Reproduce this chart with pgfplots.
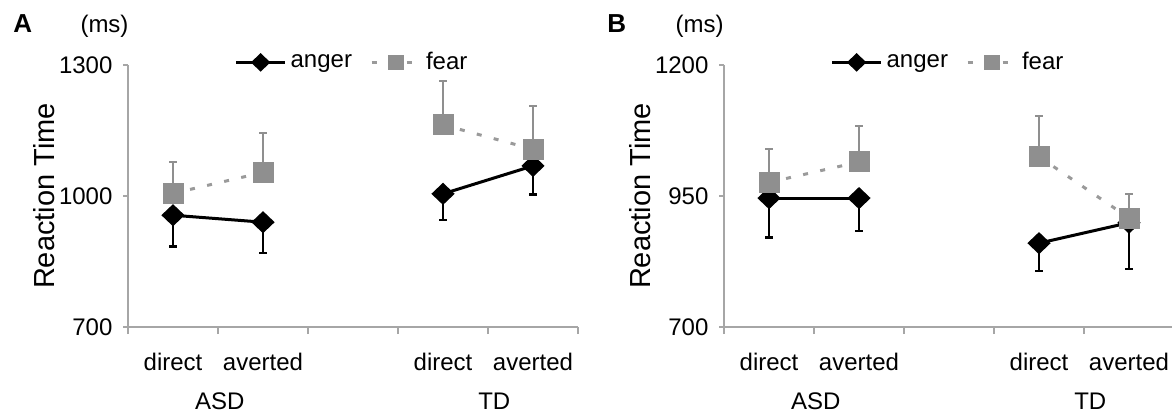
\documentclass[border=0pt]{standalone}
\usepackage{pgfplots}
\pgfplotsset{compat=1.18}
\usepackage{pgfplotstable}
\usepackage{fontspec}
\setmainfont{Liberation Sans}
\usetikzlibrary{plotmarks}

\definecolor{axgray}{HTML}{A6A6A6}
\definecolor{feargray}{HTML}{8F8F8F}
\definecolor{dashgray}{HTML}{9A9A9A}

% x: 0 = ASD direct, 1 = ASD averted, 3 = TD direct, 4 = TD averted
\pgfplotstableread{
x anger angerE fear fearE
0 956  72 1006 71
1 940  71 1054 90
3 1005 60 1163 101
4 1069 66 1107 99
}\dataA
\pgfplotstableread{
x anger angerE fear fearE
0 946 75 976 64
1 946 63 1015 69
3 860 53 1025 77
4 899 88 908 46
}\dataB

\pgfplotsset{
  rt/.style={
    scale only axis, width=225pt, height=131pt,
    xmin=-0.5, xmax=4.5,
    axis lines*=left,
    axis line style={draw=axgray, line width=0.7pt},
    tick align=outside,
    xtick={-0.5,0.5,...,4.5}, xticklabels={},
    xtick style={draw=axgray, line width=0.7pt, /pgfplots/major tick length=3.5pt},
    ytick style={draw=axgray, line width=0.7pt, /pgfplots/major tick length=2.5pt},
    yticklabel style={font=\fontsize{12}{14}\selectfont,
      /pgf/number format/assume math mode=true, /pgf/number format/1000 sep={}},
    ylabel={Reaction Time},
    ylabel style={at={(axis description cs:-0.187,0.5)}, anchor=center, font=\fontsize{14.5}{17}\selectfont},
    clip=false,
    legend columns=2,
    legend style={draw=none, fill=none, at={(0.5,1.01)}, anchor=center,
      font=\fontsize{12}{14}\selectfont,
      /tikz/every even column/.append style={column sep=7pt}},
  },
  angerline/.style={black, line width=1.5pt, mark=diamond*, mark size=4.5pt,
    mark options={solid, xscale=1.4, fill=black},
    error bars/y dir=minus, error bars/y explicit,
    error bars/error bar style={black, line width=1.2pt},
    error bars/error mark options={rotate=90, mark size=1.8pt, black, line width=1.2pt}},
  fearline/.style={dashgray, line width=1.5pt, dash pattern=on 2.5pt off 6.25pt,
    mark=square*, mark size=5pt,
    mark options={solid, draw=feargray, fill=feargray, line width=0pt},
    error bars/y dir=plus, error bars/y explicit,
    error bars/error bar style={solid, feargray, line width=1pt},
    error bars/error mark options={rotate=90, mark size=1.8pt, feargray, line width=1pt}},
  legimg/.style={legend image code/.code={
    \draw[##1] (0pt,0pt) -- (24.5pt,0pt);
    \draw[##1, /tikz/mark size=3.6pt, solid] plot coordinates {(12.25pt,0pt)};}},
}

\newcommand{\lab}{\fontsize{12}{14.5}\selectfont}

\begin{document}
\begin{tikzpicture}
\path[use as bounding box] (0,0) rectangle (586pt,206pt);

% panel A
\node[anchor=base west, font=\fontsize{13}{15}\selectfont\bfseries, inner sep=0pt] at (6.5pt,189.5pt) {A};
\node[anchor=base, font=\fontsize{12}{14}\selectfont, inner sep=0pt] at (52.25pt,189.5pt) {(ms)};
\begin{axis}[rt, at={(64pt,42.5pt)}, anchor=south west,
  ymin=700, ymax=1300, ytick={700,1000,1300}]
  \addplot[angerline, restrict x to domain=0:1, legimg] table[x=x, y=anger, y error=angerE] {\dataA};
  \addlegendentry{anger}
  \addplot[angerline, restrict x to domain=3:4, forget plot] table[x=x, y=anger, y error=angerE] {\dataA};
  \addplot[fearline, restrict x to domain=0:1, legimg] table[x=x, y=fear, y error=fearE] {\dataA};
  \addlegendentry{fear}
  \addplot[fearline, restrict x to domain=3:4, forget plot] table[x=x, y=fear, y error=fearE] {\dataA};
  \node[font=\lab, anchor=base] at (axis cs:0,700) [yshift=-21.5pt] {direct};
  \node[font=\lab, anchor=base] at (axis cs:1,700) [yshift=-21.5pt] {averted};
  \node[font=\lab, anchor=base] at (axis cs:3,700) [yshift=-21.5pt] {direct};
  \node[font=\lab, anchor=base] at (axis cs:4,700) [yshift=-21.5pt] {averted};
  \node[font=\lab, anchor=base] at (axis cs:0.52,700) [yshift=-41pt] {ASD};
  \node[font=\lab, anchor=base] at (axis cs:3.57,700) [yshift=-41pt] {TD};
\end{axis}

% panel B
\node[anchor=base west, font=\fontsize{13}{15}\selectfont\bfseries, inner sep=0pt] at (303.5pt,189.5pt) {B};
\node[anchor=base, font=\fontsize{12}{14}\selectfont, inner sep=0pt] at (349.75pt,189.5pt) {(ms)};
\begin{axis}[rt, at={(362pt,42.5pt)}, anchor=south west,
  ymin=700, ymax=1200, ytick={700,950,1200}]
  \addplot[angerline, restrict x to domain=0:1, legimg] table[x=x, y=anger, y error=angerE] {\dataB};
  \addlegendentry{anger}
  \addplot[angerline, restrict x to domain=3:4, forget plot] table[x=x, y=anger, y error=angerE] {\dataB};
  \addplot[fearline, restrict x to domain=0:1, legimg] table[x=x, y=fear, y error=fearE] {\dataB};
  \addlegendentry{fear}
  \addplot[fearline, restrict x to domain=3:4, forget plot] table[x=x, y=fear, y error=fearE] {\dataB};
  \node[font=\lab, anchor=base] at (axis cs:0,700) [yshift=-21.5pt] {direct};
  \node[font=\lab, anchor=base] at (axis cs:1,700) [yshift=-21.5pt] {averted};
  \node[font=\lab, anchor=base] at (axis cs:3,700) [yshift=-21.5pt] {direct};
  \node[font=\lab, anchor=base] at (axis cs:4,700) [yshift=-21.5pt] {averted};
  \node[font=\lab, anchor=base] at (axis cs:0.52,700) [yshift=-41pt] {ASD};
  \node[font=\lab, anchor=base] at (axis cs:3.57,700) [yshift=-41pt] {TD};
\end{axis}
\end{tikzpicture}
\end{document}
